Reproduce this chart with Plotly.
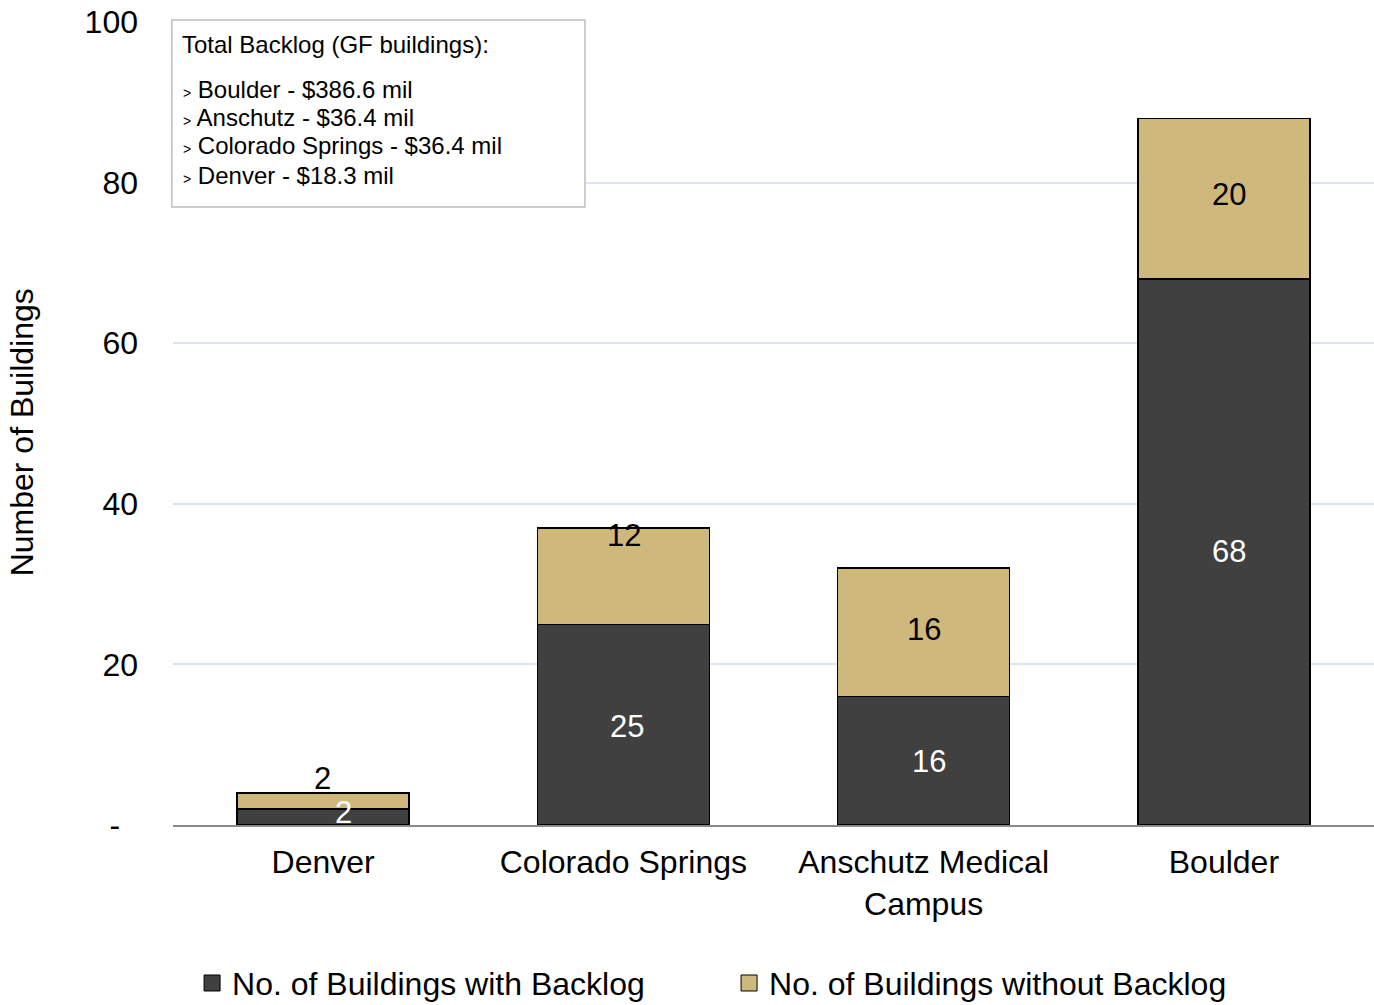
import plotly.graph_objects as go

# ---- data ----
categories = ["Denver", "Colorado Springs", "Anschutz Medical<br>Campus", "Boulder"]
with_backlog = [2, 25, 16, 68]
without_backlog = [2, 12, 16, 20]

backlog_campus = ["Boulder", "Anschutz", "Colorado Springs", "Denver"]
backlog_mil = [386.6, 36.4, 36.4, 18.3]

y_tickvals = [0, 20, 40, 60, 80, 100]
y_ticktext = ["-\u00a0\u00a0", "20", "40", "60", "80", "100"]

series_names = ["No. of Buildings with Backlog", "No. of Buildings without Backlog"]

# label offsets (style only)
dark_xshift = [20, 4, 5, 5]
dark_yshift = [4, -2, -1, 0]
tan_xshift = [-1, 1, 0, 5]
tan_yshift = [22, 41, 3, 4]

DARK = "#404040"
TAN = "#CFB87C"
FONT = "Liberation Sans, Arial, sans-serif"

fig = go.Figure()
fig.add_trace(go.Bar(
    x=categories, y=with_backlog, name=series_names[0], showlegend=False,
    marker=dict(color=DARK, line=dict(color="#000000", width=1.5)),
    width=0.573, hoverinfo="skip",
))
fig.add_trace(go.Bar(
    x=categories, y=without_backlog, name=series_names[1], showlegend=False,
    marker=dict(color=TAN, line=dict(color="#000000", width=1.5)),
    width=0.573, hoverinfo="skip",
))
# legend-only entries with larger square swatches
for nm, col in zip(series_names, [DARK, TAN]):
    fig.add_trace(go.Scatter(
        x=[None], y=[None], mode="markers", name=nm, hoverinfo="skip",
        marker=dict(symbol="square", size=18, color=col, line=dict(color="#000000", width=1)),
    ))

annotations = []
for i, c in enumerate(categories):
    annotations.append(dict(
        x=c, y=with_backlog[i] / 2, xref="x", yref="y", text=str(with_backlog[i]),
        showarrow=False, font=dict(family=FONT, size=31, color="#FFFFFF"),
        xshift=dark_xshift[i], yshift=dark_yshift[i],
    ))
    annotations.append(dict(
        x=c, y=with_backlog[i] + without_backlog[i] / 2, xref="x", yref="y",
        text=str(without_backlog[i]),
        showarrow=False, font=dict(family=FONT, size=31, color="#000000"),
        xshift=tan_xshift[i], yshift=tan_yshift[i],
    ))

# y-axis title
annotations.append(dict(
    x=-0.1257, y=0.489, xref="paper", yref="paper", xanchor="center", yanchor="middle",
    text="Number of Buildings", textangle=-90, showarrow=False,
    font=dict(family=FONT, size=32, color="#000000"),
))

# text box
annotations.append(dict(
    x=0.006, y=0.9726, xref="paper", yref="paper", xanchor="left", yanchor="middle",
    text="Total Backlog (GF buildings):", showarrow=False, align="left",
    font=dict(family=FONT, size=24, color="#000000"),
))
line_y = [89, 117, 146, 175]
for i, (camp, mil) in enumerate(zip(backlog_campus, backlog_mil)):
    annotations.append(dict(
        x=0.007, y=(825 - line_y[i]) / 803, xref="paper", yref="paper",
        xanchor="left", yanchor="middle", showarrow=False, align="left",
        text=f"<span style='font-size:14px'>></span> {camp} - ${mil:.1f} mil",
        font=dict(family=FONT, size=24, color="#000000"),
    ))

fig.update_layout(
    width=1374, height=1005,
    margin=dict(l=173, r=0, t=22, b=180, autoexpand=False),
    barmode="stack",
    bargap=0.427,
    plot_bgcolor="#FFFFFF", paper_bgcolor="#FFFFFF",
    font=dict(family=FONT, size=32, color="#000000"),
    showlegend=True,
    legend=dict(
        orientation="h", x=0.463, xanchor="center", y=-0.197, yanchor="middle",
        traceorder="normal",
        font=dict(family=FONT, size=32, color="#000000"),
        entrywidth=492, entrywidthmode="pixels", itemwidth=30,
    ),
    shapes=[dict(
        type="rect", xref="paper", yref="paper",
        x0=-0.001, x1=0.343, y0=0.7696, y1=1.0025,
        line=dict(color="#BFBFBF", width=1.5), fillcolor="#FFFFFF", layer="above",
    )],
    annotations=annotations,
)
fig.update_xaxes(
    showgrid=False, showline=True, linecolor="#898989", linewidth=2,
    ticks="", ticklabelstandoff=8, tickfont=dict(family=FONT, size=32),
    automargin=False,
)
fig.update_yaxes(
    range=[0, 100], tickvals=y_tickvals, ticktext=y_ticktext,
    showgrid=True, gridcolor="#DCE6F0", gridwidth=1.5, zeroline=False,
    showline=False, ticks="", ticklabelstandoff=34,
    tickfont=dict(family=FONT, size=32), automargin=False,
)

fig.write_html("out.html", post_script="document.body.style.margin='0';",
               config={"displayModeBar": False})
